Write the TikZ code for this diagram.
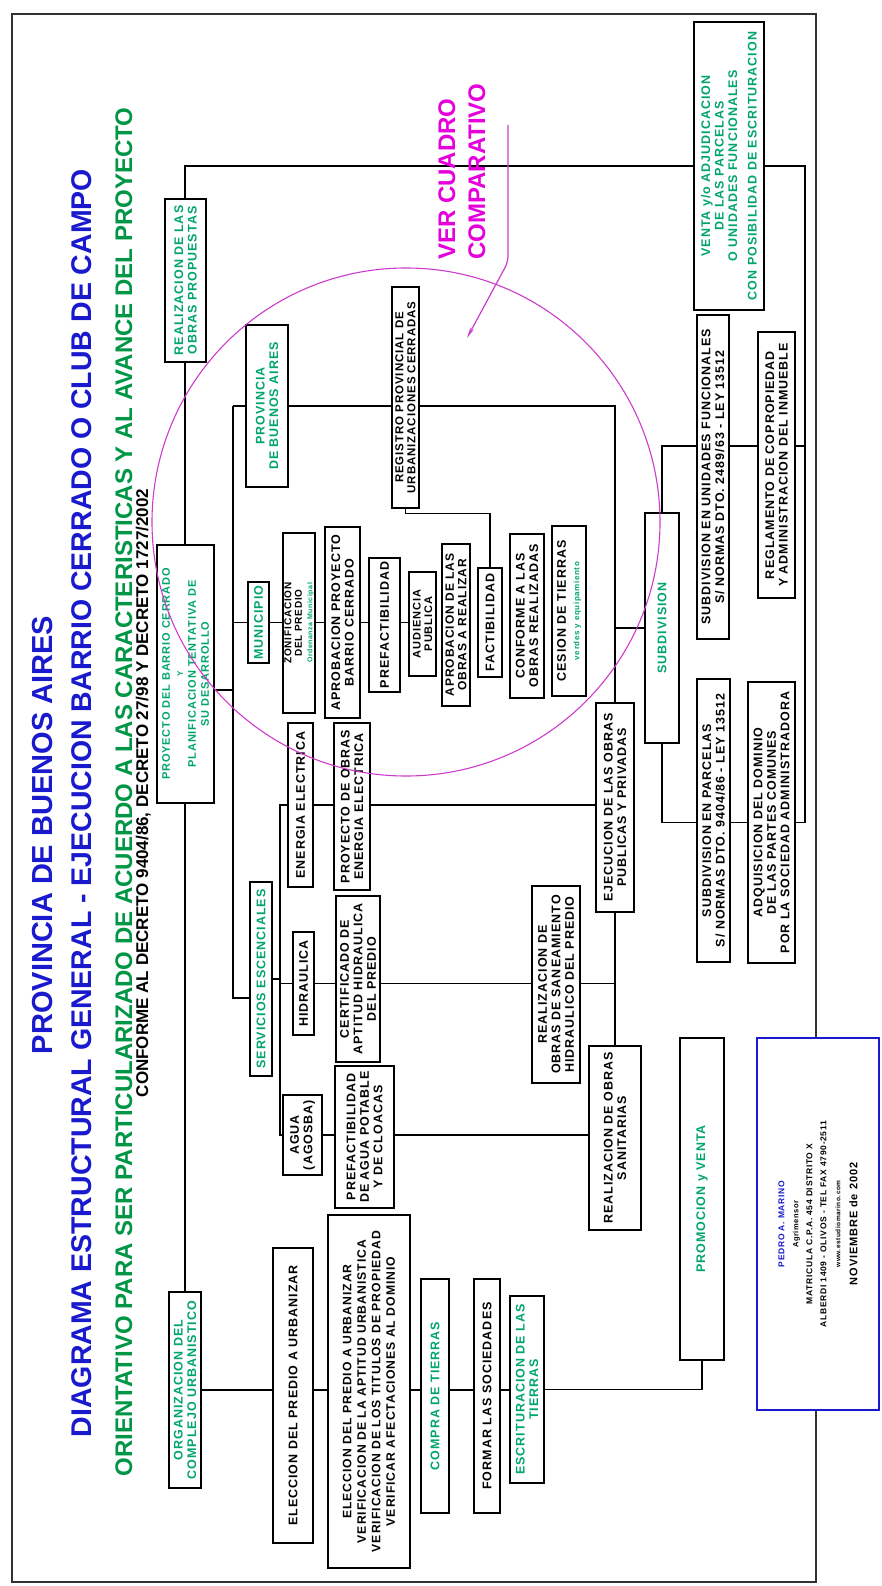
\documentclass[tikz,border=0pt]{standalone}
\usepackage{fontspec}
\setmainfont{Liberation Sans}
\newfontfamily\boxfont{Liberation Sans}[LetterSpace=8]
\newfontfamily\ttlfont{Liberation Sans}
\usetikzlibrary{backgrounds,arrows.meta}
\definecolor{boxgreen}{RGB}{0,165,110}
\definecolor{ttlgreen}{RGB}{0,150,70}
\definecolor{ttlblue}{RGB}{25,25,205}
\definecolor{magc}{RGB}{230,0,220}
\definecolor{circc}{RGB}{205,60,205}
\definecolor{framec}{RGB}{50,50,50}
\newcommand\BX[7]{\node[#6, minimum width={(#5-#3)*1pt}, minimum height={(#4-#2)*1pt}] (#1) at ({(#2+#4)/2},{(#3+#5)/2}) {#7};}
\tikzset{
  box/.style={draw=black, line width=1.3pt, fill=white, rotate=90, inner sep=0.5pt, align=center,
    font=\boxfont\bfseries\fontsize{12.5}{13.5}\selectfont, text=black},
  gbox/.style={box, text=boxgreen},
  conn/.style={draw=black, line width=1.3pt},
  ttl/.style={rotate=90, anchor=base, inner sep=0pt},
}
\begin{document}
\begin{tikzpicture}[x=1pt,y=-1pt]
\useasboundingbox (0,0) rectangle (882,1586);
% titles
\node[ttl, text=ttlblue, font=\ttlfont\bfseries\fontsize{29}{30}\selectfont] (t1) at (52,835) {PROVINCIA DE BUENOS AIRES};
\node[ttl, text=ttlblue, font=\ttlfont\bfseries\fontsize{28.5}{30}\selectfont] (t2) at (91,803) {DIAGRAMA ESTRUCTURAL GENERAL - EJECUCION BARRIO CERRADO O CLUB DE CAMPO};
\node[ttl, text=ttlgreen, font=\ttlfont\bfseries\fontsize{24}{26}\selectfont] (t3) at (132,792) {ORIENTATIVO PARA SER PARTICULARIZADO DE ACUERDO A LAS CARACTERISTICAS Y AL AVANCE DEL PROYECTO};
\node[ttl, text=black, font=\ttlfont\bfseries\fontsize{17}{18}\selectfont] (t4) at (148,793) {CONFORME AL DECRETO 9404/86, DECRETO 27/98 Y DECRETO 1727/2002};
% top row
\BX{org}{169}{1292}{201}{1488}{gbox}{ORGANIZACION DEL\\COMPLEJO URBANISTICO}
\BX{proy}{157}{545}{214}{803}{gbox,font=\boxfont\bfseries\fontsize{11}{13}\selectfont}{PROYECTO DEL BARRIO CERRADO\\{\fontsize{8}{9}\selectfont Y}\\PLANIFICACION TENTATIVA DE\\SU DESARROLLO}
\BX{realiz}{165}{199}{206}{362}{gbox}{REALIZACION DE LAS\\OBRAS PROPUESTAS}
% level 2
\BX{prov}{246}{325}{288}{487}{gbox}{PROVINCIA\\DE BUENOS AIRES}
\BX{muni}{248}{582}{269}{663}{gbox}{MUNICIPIO}
\BX{serv}{250}{882}{272}{1076}{gbox}{SERVICIOS ESCENCIALES}
% level 3
\BX{zonif}{283}{533}{315}{713}{box,font=\boxfont\bfseries\fontsize{10}{10.5}\selectfont}{ZONIFICACION\\DEL PREDIO\\{\color{boxgreen}\fontsize{7}{8}\selectfont Ordenanza Municipal}}
\BX{energ}{288}{723}{313}{887}{box}{ENERGIA ELECTRICA}
\BX{hidr}{293}{932}{314}{1035}{box}{HIDRAULICA}
\BX{agua}{283}{1095}{322}{1175}{box}{AGUA\\(AGOSBA)}
% level 4
\BX{aprobp}{325}{527}{360}{718}{box}{APROBACION PROYECTO\\BARRIO CERRADO}
\BX{proyel}{334}{723}{370}{890}{box}{PROYECTO DE OBRAS\\ENERGIA ELECTRICA}
\BX{certif}{336}{896}{380}{1062}{box}{CERTIFICADO DE\\APTITUD HIDRAULICA\\DEL PREDIO}
\BX{prefag}{335}{1066}{394}{1208}{box}{PREFACTIBILIDAD\\DE AGUA POTABLE\\Y DE CLOACAS}
% municipal chain
\BX{prefac}{369}{558}{400}{692}{box}{PREFACTIBILIDAD}
\BX{audi}{409}{572}{436}{676}{box,font=\boxfont\bfseries\fontsize{11}{11.5}\selectfont}{AUDIENCIA\\PUBLICA}
\BX{aprobo}{442}{544}{470}{706}{box,font=\boxfont\bfseries\fontsize{12}{12.5}\selectfont}{APROBACION DE LAS\\OBRAS A REALIZAR}
\BX{factib}{478}{568}{502}{677}{box}{FACTIBILIDAD}
\BX{conf}{510}{534}{544}{698}{box}{CONFORME A LAS\\OBRAS REALIZADAS}
\BX{cesion}{552}{526}{586}{696}{box}{CESION DE TIERRAS\\{\color{boxgreen}\fontsize{8}{9}\selectfont verdes y equipamiento}}
\BX{regis}{392}{287}{419}{508}{box,font=\boxfont\bfseries\fontsize{11.5}{12}\selectfont}{REGISTRO PROVINCIAL DE\\URBANIZACIONES CERRADAS}
% right side
\BX{realsan}{532}{886}{580}{1083}{box}{REALIZACION DE\\OBRAS DE SANEAMIENTO\\HIDRAULICO DEL PREDIO}
\BX{ejec}{596}{703}{634}{912}{box}{EJECUCION DE LAS OBRAS\\PUBLICAS Y PRIVADAS}
\BX{sanit}{589}{1046}{641}{1230}{box}{REALIZACION DE OBRAS\\SANITARIAS}
\BX{subd}{645}{513}{679}{743}{gbox}{SUBDIVISION}
\BX{subduf}{697}{315}{729}{639}{box}{SUBDIVISION EN UNIDADES FUNCIONALES\\S/ NORMAS DTO. 2489/63 - LEY 13512}
\BX{regla}{758}{332}{795}{598}{box}{REGLAMENTO DE COPROPIEDAD\\Y ADMINISTRACION DEL INMUEBLE}
\BX{subdp}{697}{679}{730}{962}{box}{SUBDIVISION EN PARCELAS\\S/ NORMAS DTO. 9404/86 - LEY 13512}
\BX{adq}{748}{682}{795}{963}{box}{ADQUISICION DEL DOMINIO\\DE LAS PARTES COMUNES\\POR LA SOCIEDAD ADMINISTRADORA}
\BX{venta}{694}{22}{764}{310}{gbox}{VENTA y/o ADJUDICACION\\DE LAS PARCELAS\\O UNIDADES FUNCIONALES\\[6pt]CON POSIBILIDAD DE ESCRITURACION}
\BX{promo}{680}{1038}{724}{1360}{gbox}{PROMOCION y VENTA}
\BX{pedro}{757}{1038}{879}{1410}{box,draw=ttlblue,line width=1.6pt,font=\boxfont\bfseries\fontsize{8.5}{14}\selectfont}{{\color{ttlblue}PEDRO A. MARINO}\\{\fontsize{7.5}{14}\selectfont Agrimensor}\\MATRICULA C.P.A. 454 DISTRITO X\\ALBERDI 1409 - OLIVOS - TEL FAX 4790-2511\\{\fontsize{6.5}{12}\selectfont www.estudiomarino.com}\\[3pt]{\fontsize{11}{14}\selectfont NOVIEMBRE de 2002}}
% bottom chain
\BX{elec1}{273}{1248}{313}{1543}{box}{ELECCION DEL PREDIO A URBANIZAR}
\BX{elec2}{328}{1215}{410}{1568}{box,font=\boxfont\bfseries\fontsize{12.2}{14.5}\selectfont}{ELECCION DEL PREDIO A URBANIZAR\\VERIFICACION DE LA APTITUD URBANISTICA\\VERIFICACION DE LOS TITULOS DE PROPIEDAD\\VERIFICAR AFECTACIONES AL DOMINIO}
\BX{compra}{421}{1279}{449}{1513}{gbox}{COMPRA DE TIERRAS}
\BX{formar}{474}{1279}{500}{1513}{box}{FORMAR LAS SOCIEDADES}
\BX{escrit}{510}{1296}{544}{1483}{gbox}{ESCRITURACION DE LAS\\TIERRAS}
% bus coordinates
\coordinate (b2) at (233,0);
\coordinate (b3) at (280,0);
\coordinate (rbus) at (805,0);
\begin{scope}[on background layer]
\fill[white] (0,0) rectangle (882,1586);
\draw[framec, line width=1.3pt] (12,14) rectangle (816,1582);
\draw[conn] (org.east) |- (venta.north);
\draw[conn] (venta.south) -| (rbus |- adq.south) -- (adq.south);
\draw[conn] (regla.south |- 0,446) -- (rbus |- 0,446);
\draw[conn] (subd.east) |- (regla.north |- 0,446);
\draw[conn] (subd.west) |- (adq.north);
\draw[conn] (proy.south |- 0,690) -- (b2 |- 0,690);
\draw[conn] (b2 |- 0,406) -- (b2 |- 0,998) -- (serv.north |- 0,998);
\draw[conn] (b2 |- 0,406) -| (ejec.east);
\draw[conn] (muni.north) -- (b2 |- muni.north);
\draw[conn] (muni.south) -- (audi.north |- muni.south);
\draw[conn] (subd.north) -- (ejec.east |- subd.north);
\draw[conn] (ejec.west) -- (sanit.east);
\draw[conn] (serv.south) -- (b3 |- serv.south);
\draw[conn] (energ.north) -- (b3 |- energ.north) -- (b3 |- agua.north) -- (agua.north);
\draw[conn] (hidr.north) -- (b3 |- hidr.north);
\draw[conn] (energ.south) -- (ejec.north |- energ.south);
\draw[conn] (hidr.south) -- (ejec.west |- hidr.south);
\draw[conn] (agua.south) -- (sanit.north |- agua.south);
\draw[conn] (regis.west) -- ++(0,5) -| (factib.east);
\draw[conn] (org.south) -- (escrit.north |- org.south);
\draw[conn] (escrit.south) -| (promo.west);
\end{scope}
% circle and annotation
\draw[circc, line width=1.1pt] (406,522) circle[radius=254pt];
\node[rotate=90, anchor=base west, inner sep=0pt, text=magc, font=\ttlfont\bfseries\fontsize{24}{26}\selectfont] (ver1) at (455,260) {VER CUADRO};
\node[rotate=90, anchor=base west, inner sep=0pt, text=magc, font=\ttlfont\bfseries\fontsize{24}{26}\selectfont] (ver2) at (485,260) {COMPARATIVO};
\coordinate (vs) at (508,125);
\coordinate (vm) at (508,262);
\coordinate (ve) at (467,338);
\draw[circc, line width=1.2pt, rounded corners=6pt, -{Stealth[length=11pt,width=4pt]}] (vs) -- (vm) -- (ve);
\end{tikzpicture}
\end{document}
